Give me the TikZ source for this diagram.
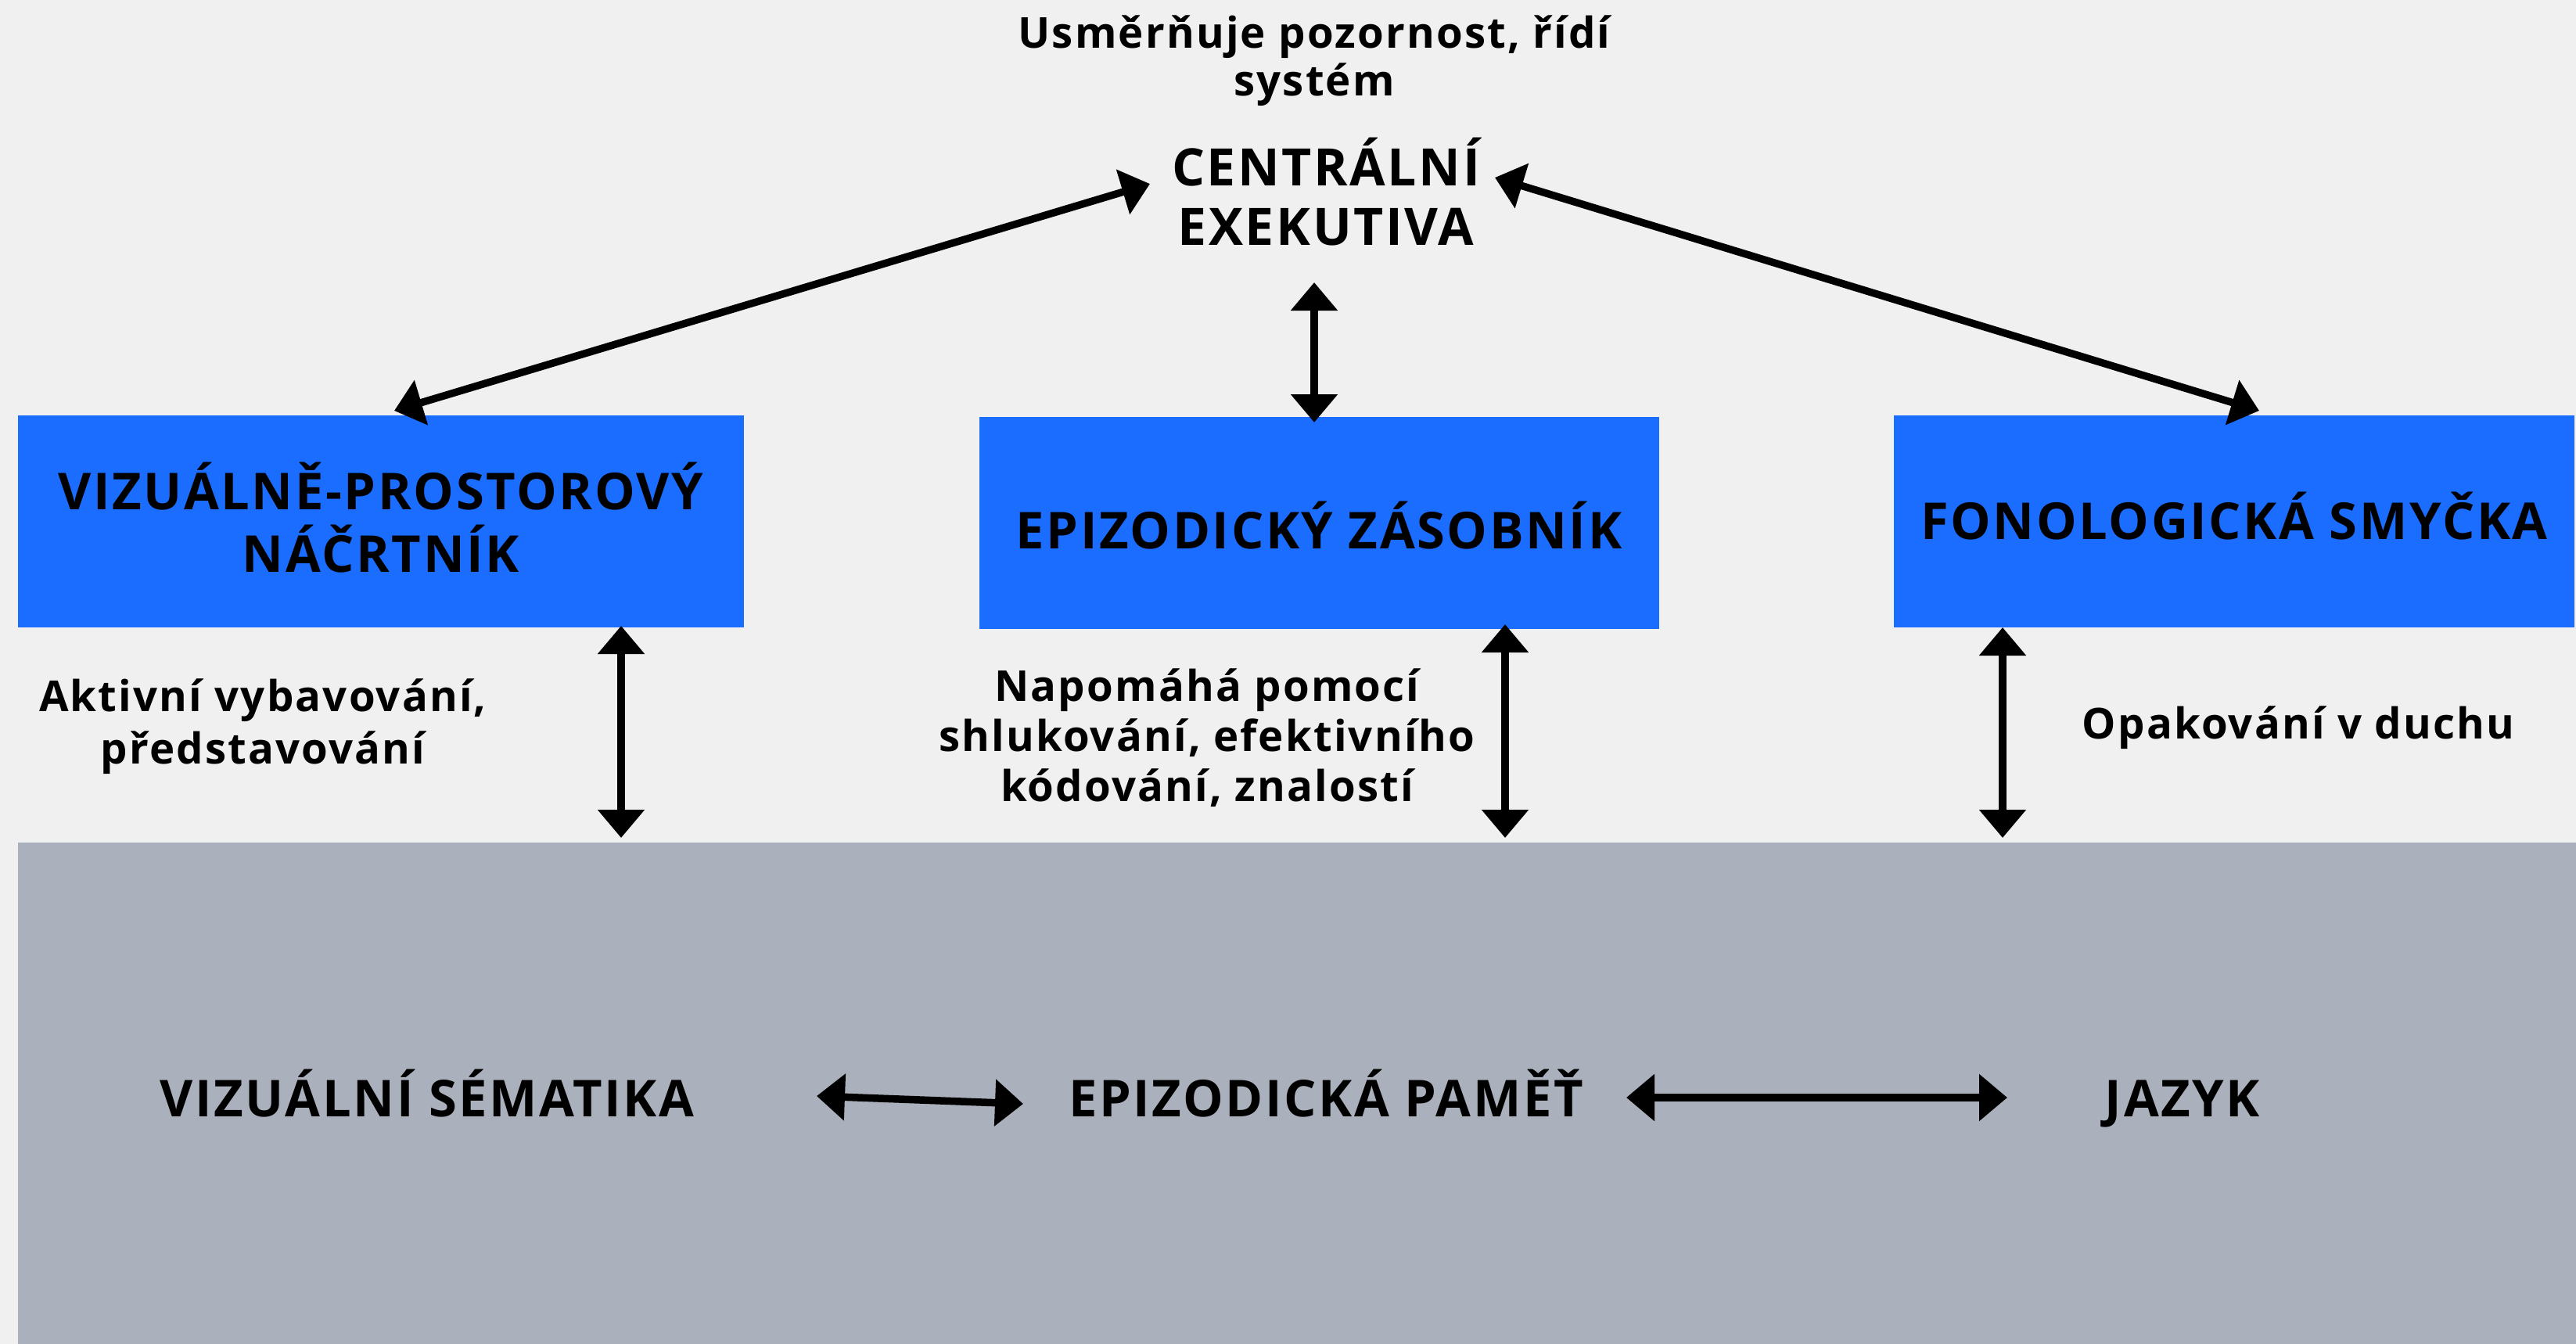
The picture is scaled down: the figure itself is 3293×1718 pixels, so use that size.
\documentclass[tikz,border=0pt]{standalone}
\usepackage{fontspec}
\setmainfont{Open Sans}
\usetikzlibrary{arrows.meta,calc}
\definecolor{bgc}{RGB}{240,240,240}
\definecolor{boxblue}{RGB}{26,109,255}
\definecolor{ltmgray}{RGB}{170,176,188}
\newfontfamily\osbsp{Open Sans}[LetterSpace=4]
\tikzset{
  bluebox/.style={fill=boxblue,draw=none,minimum width=#1,minimum height=271pt,inner sep=0pt,align=center},
  boxtxt/.style={font=\osbsp\bfseries\fontsize{65}{80}\selectfont,align=center,inner sep=0pt},
  bigtxt/.style={font=\osbsp\bfseries\fontsize{65}{80}\selectfont,align=center,inner sep=0pt,anchor=base},
  cetxt/.style={font=\osbsp\bfseries\fontsize{66}{76}\selectfont,align=center,inner sep=0pt},
  smalltxt/.style={font=\osbsp\bfseries\fontsize{54.5}{#1}\selectfont,align=center,inner sep=0pt},
  dblarrow/.style={line width=9.5pt,{Triangle[length=36pt,width=58pt]}-{Triangle[length=36pt,width=58pt]}},
}
\begin{document}
\begin{tikzpicture}[x=1pt,y=-1pt]
\fill[bgc] (0,0) rectangle (3293,1718);
\useasboundingbox (0,0) rectangle (3293,1718);
% long-term memory area
\node[fill=ltmgray,draw=none,minimum width=3270pt,minimum height=641pt,inner sep=0pt,anchor=north west] (ltm) at (23,1077) {};
% top
\node[smalltxt=61] (note) at (1680,78) {Usměrňuje pozornost, řídí\\systém};
\node[cetxt] (ce) at (1695,245) {CENTRÁLNÍ\\EXEKUTIVA};
% boxes
\node[bluebox=928pt] (vps) at (487,666.5) {};
\node[bluebox=869pt] (ez) at (1686.5,668.5) {};
\node[bluebox=870pt] (fs) at (2856,666.5) {};
\node[boxtxt] (vpst) at (487,662) {VIZUÁLNĚ-PROSTOROVÝ\\NÁČRTNÍK};
\node[boxtxt] (ezt) at (1686,672) {EPIZODICKÝ ZÁSOBNÍK};
\node[boxtxt] (fst) at (2856,660) {FONOLOGICKÁ SMYČKA};
% side labels
\node[smalltxt=67] (l1) at (336,929) {Aktivní vybavování,\\představování};
\node[smalltxt=64] (l2) at (1543,943) {Napomáhá pomocí\\shlukování, efektivního\\kódování, znalostí};
\node[smalltxt=64] (l3) at (2938,930) {Opakování v duchu};
% bottom
\node[bigtxt] (vs) at (546,1427) {VIZUÁLNÍ SÉMATIKA};
\node[bigtxt] (ep) at (1695,1427) {EPIZODICKÁ PAMĚŤ};
\node[bigtxt] (jz) at (2790,1427) {JAZYK};
% arrow end coordinates
\coordinate (ceL) at (1470,235);
\coordinate (ceR) at (1911,227);
\coordinate (ceB) at (1680,361);
\coordinate (vpsT) at (504,525);
\coordinate (fsT) at (2888,525);
\coordinate (ezT) at (1680,540);
\coordinate (vpsB) at (794,800);
\coordinate (ezB) at (1924,798);
\coordinate (fsB) at (2560,802);
\coordinate (ltm1) at (794,1071);
\coordinate (ltm2) at (1924,1071);
\coordinate (ltm3) at (2560,1071);
\coordinate (vsR) at (1044,1401);
\coordinate (epL) at (1308,1411);
\coordinate (epR) at (2079,1403);
\coordinate (jzL) at (2566,1403);
\draw[dblarrow] (ceL) -- (vpsT);
\draw[dblarrow] (ceR) -- (fsT);
\draw[dblarrow] (ceB) -- (ezT);
\draw[dblarrow] (vpsB) -- (ltm1);
\draw[dblarrow] (ezB) -- (ltm2);
\draw[dblarrow] (fsB) -- (ltm3);
\draw[dblarrow] (vsR) -- (epL);
\draw[dblarrow] (epR) -- (jzL);
\end{tikzpicture}
\end{document}
